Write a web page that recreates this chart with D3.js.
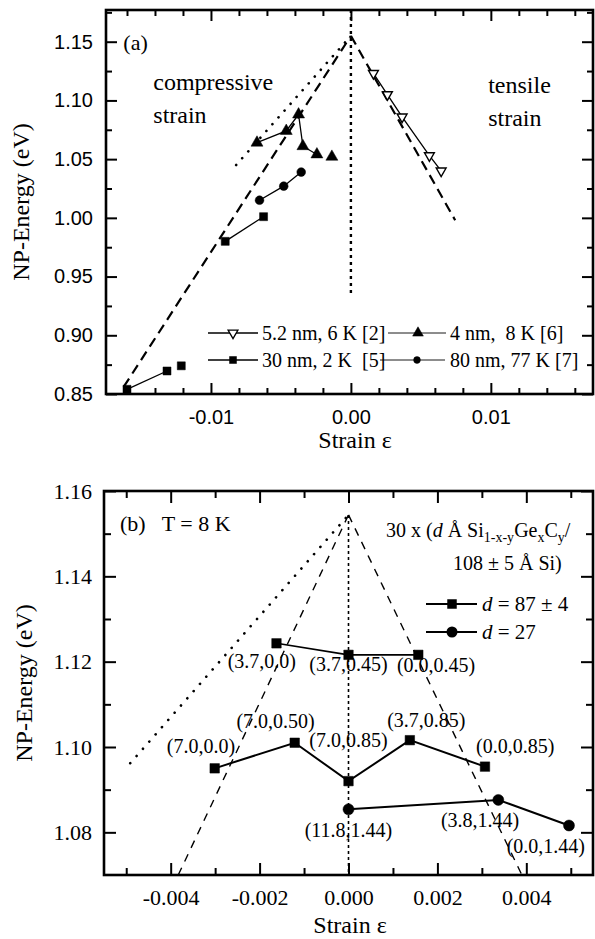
<!DOCTYPE html>
<html><head><meta charset="utf-8">
<script src="https://cdn.jsdelivr.net/npm/d3@7"></script>
<style>
body{margin:0;background:#fff;}
</style></head>
<body>
<svg id="c" width="595" height="939"></svg>
<script>
// ---------- Panel (a) data ----------
const aTensileX = [0.00161, 0.00261, 0.00366, 0.00561, 0.00645];
const aTensileE = [1.123, 1.105, 1.086, 1.053, 1.040];
const a4nmX = [-0.00671, -0.00462, -0.00374, -0.00343, -0.00243, -0.00136];
const a4nmE = [1.064, 1.074, 1.088, 1.061, 1.054, 1.052];
const a4nmLinked = [[0, 1, 2, 3, 4]];
const a30nmX = [-0.0160, -0.01314, -0.01212, -0.00898, -0.00624];
const a30nmE = [0.854, 0.8696, 0.874, 0.980, 1.001];
const a30nmLinked = [[0, 1], [3, 4]];
const a80nmX = [-0.00653, -0.0048, -0.00355];
const a80nmE = [1.015, 1.027, 1.039];
const aLegend = ["5.2 nm, 6 K [2]", "4 nm,  8 K [6]", "30 nm, 2 K  [5]", "80 nm, 77 K [7]"];
const aXTicks = [-0.01, 0.0, 0.01];
const aYTicks = [0.85, 0.90, 0.95, 1.00, 1.05, 1.10, 1.15];
const aDashL = [[-0.01624, 0.856], [0, 1.155]];
const aDashR = [[0, 1.155], [0.00745, 0.998]];
const aDotDiag = [[-0.0082, 1.045], [0, 1.155]];
const aDotV = [[0, 1.177], [0, 0.934]];

// ---------- Panel (b) data ----------
const bRow1X = [-0.00162, 0, 0.00157];
const bRow1E = [1.1243, 1.1216, 1.1216];
const bRow2X = [-0.00301, -0.00121, 0, 0.00138, 0.00307];
const bRow2E = [1.0950, 1.1010, 1.0920, 1.1016, 1.0954];
const bCircX = [0, 0.00337, 0.00496];
const bCircE = [1.0854, 1.0876, 1.0816];
const bLabelText = ["(3.7,0.0)", "(3.7,0.45)", "(0.0,0.45)", "(7.0,0.0)", "(7.0,0.50)", "(7.0,0.85)",
                    "(3.7,0.85)", "(0.0,0.85)", "(11.8,1.44)", "(3.8,1.44)", "(0.0,1.44)"];
const bLabelX = [-0.00195, 0.0, 0.00197, -0.00332, -0.00164, 0.0, 0.00175, 0.00375, 0.0, 0.00296, 0.00444];
const bLabelE = [1.1185, 1.1178, 1.1176, 1.0986, 1.1045, 1.1000, 1.1047, 1.0986, 1.0789, 1.0813, 1.0752];
const bXTicks = [-0.004, -0.002, 0.0, 0.002, 0.004];
const bYTicks = [1.08, 1.10, 1.12, 1.14, 1.16];
const bDashL = [[-0.00383, 1.07], [0, 1.1544]];
const bDashR = [[0, 1.1544], [0.0039, 1.07]];
const bDotDiag = [[-0.00491, 1.0962], [0, 1.1544]];
const bDotV = [[0, 1.1544], [0, 1.07]];

const SERIF = '"Liberation Serif", "Times New Roman", serif';
const SANS = '"Liberation Sans", Arial, sans-serif';

const svg = d3.select("#c");
svg.append("rect").attr("width", 595).attr("height", 939).attr("fill", "#fff");

function range(a, b, s) { const r = []; for (let v = a; v <= b + s / 2; v += s) r.push(+v.toFixed(6)); return r; }

function frameAndAxes(g, x, y, o) {
  const [x0, x1] = x.range(), [y0, y1] = y.range();
  const mk = (axis, tr, vals, size, fmt, pad) => {
    const a = g.append("g").attr("transform", tr)
      .call(axis.tickValues(vals).tickSize(size).tickPadding(pad).tickFormat(fmt));
    a.attr("font-family", o.font).attr("font-size", o.fs);
    a.select(".domain").remove();
    a.selectAll("line").attr("stroke", "#000").attr("stroke-width", 2);
    a.selectAll("text").style("font-family", o.font).style("font-size", o.fs + "px").attr("fill", "#000");
    return a;
  };
  const none = () => "";
  mk(d3.axisBottom(x), `translate(0,${y0})`, o.xMajor, -o.maj, o.xFmt, o.xPad);
  mk(d3.axisBottom(x), `translate(0,${y0})`, o.xMinor, -o.min, none, 0);
  mk(d3.axisTop(x), `translate(0,${y1})`, o.xMajor, -o.maj, none, 0);
  mk(d3.axisTop(x), `translate(0,${y1})`, o.xMinor, -o.min, none, 0);
  mk(d3.axisLeft(y), `translate(${x0},0)`, o.yMajor, -o.maj, o.yFmt, o.yPad);
  mk(d3.axisLeft(y), `translate(${x0},0)`, o.yMinor, -o.min, none, 0);
  mk(d3.axisRight(y), `translate(${x1},0)`, o.yMajor, -o.maj, none, 0);
  mk(d3.axisRight(y), `translate(${x1},0)`, o.yMinor, -o.min, none, 0);
  g.append("rect").attr("x", x0).attr("y", y1).attr("width", x1 - x0).attr("height", y0 - y1)
    .attr("fill", "none").attr("stroke", "#000").attr("stroke-width", 2.6);
}

function guide(g, x, y, pts, dash, w, cap) {
  g.append("path").attr("d", d3.line().x(d => x(d[0])).y(d => y(d[1]))(pts))
    .attr("fill", "none").attr("stroke", "#000").attr("stroke-width", w)
    .attr("stroke-dasharray", dash).attr("stroke-linecap", cap || "butt");
}
function seriesLine(g, x, y, xs, es, w) {
  g.append("path").attr("d", d3.line().x(i => x(xs[i])).y(i => y(es[i]))(xs.map((_, i) => i)))
    .attr("fill", "none").attr("stroke", "#000").attr("stroke-width", w);
}
function linkedLines(g, x, y, xs, es, groups, w) {
  groups.forEach(grp => {
    g.append("path").attr("d", d3.line().x(i => x(xs[i])).y(i => y(es[i]))(grp))
      .attr("fill", "none").attr("stroke", "#000").attr("stroke-width", w);
  });
}
function markers(g, x, y, xs, es, type, size, fill, rot) {
  const sym = d3.symbol().type(type).size(size);
  g.selectAll(null).data(xs.map((v, i) => [v, es[i]])).enter().append("path")
    .attr("d", sym)
    .attr("transform", d => `translate(${x(d[0])},${y(d[1])}) rotate(${rot || 0})`)
    .attr("fill", fill).attr("stroke", "#000").attr("stroke-width", fill === "#fff" ? 1.4 : 0.5);
}
function txt(g, s, x, y, fs, font, anchor) {
  return g.append("text").attr("x", x).attr("y", y).attr("fill", "#000")
    .style("font-family", font || SERIF).style("font-size", fs + "px")
    .style("white-space", "pre").attr("text-anchor", anchor || "start").text(s);
}

// =================== Panel (a) ===================
const xA = d3.scaleLinear().domain([-0.0175, 0.0173]).range([106, 593]);
const yA = d3.scaleLinear().domain([0.85, 1.177]).range([394, 10]);
const gA = svg.append("g");

guide(gA, xA, yA, aDotV, "3,4", 2.4);
guide(gA, xA, yA, aDotDiag, "0.1,9", 2.6, "round");
guide(gA, xA, yA, aDashL, "10,6", 2.2);
guide(gA, xA, yA, aDashR, "10,6", 2.2);

seriesLine(gA, xA, yA, aTensileX, aTensileE, 1.3);
linkedLines(gA, xA, yA, a4nmX, a4nmE, a4nmLinked, 1.3);
linkedLines(gA, xA, yA, a30nmX, a30nmE, a30nmLinked, 1.3);
seriesLine(gA, xA, yA, a80nmX, a80nmE, 1.3);
markers(gA, xA, yA, aTensileX, aTensileE, d3.symbolTriangle, 42, "#fff", 180);
markers(gA, xA, yA, a4nmX, a4nmE, d3.symbolTriangle, 62, "#000", 0);
markers(gA, xA, yA, a30nmX, a30nmE, d3.symbolSquare, 64, "#000", 0);
markers(gA, xA, yA, a80nmX, a80nmE, d3.symbolCircle, 60, "#000", 0);

frameAndAxes(gA, xA, yA, {
  xMajor: aXTicks, xMinor: range(-0.016, 0.016, 0.002).filter(v => Math.abs(Math.round(v * 100) - v * 100) > 1e-6),
  yMajor: aYTicks, yMinor: range(0.875, 1.175, 0.05),
  maj: 11, min: 6, xFmt: d => d.toFixed(2), yFmt: d => d.toFixed(2),
  xPad: 16, yPad: 13, font: SANS, fs: 20
});

const annA = [["(a)", -0.01626, 1.143, 22], ["compressive", -0.01412, 1.109, 24], ["strain", -0.01412, 1.0808, 24],
              ["tensile", 0.00981, 1.1064, 24], ["strain", 0.00981, 1.0783, 24]];
annA.forEach(d => txt(gA, d[0], xA(d[1]), yA(d[2]), d[3]));

const legA = [
  {x1: 208, x2: 258, mx: 233, y: 333, tx: 262, sym: d3.symbolTriangle, size: 42, fill: "#fff", rot: 180, w: 1.5},
  {x1: 388, x2: 446, mx: 418, y: 333, tx: 450, sym: d3.symbolTriangle, size: 50, fill: "#000", rot: 0, w: 0.9},
  {x1: 208, x2: 258, mx: 233, y: 360, tx: 262, sym: d3.symbolSquare, size: 49, fill: "#000", rot: 0, w: 1.5},
  {x1: 380, x2: 445, mx: 417, y: 360, tx: 450, sym: d3.symbolCircle, size: 36, fill: "#000", rot: 0, w: 0.9}
];
legA.forEach((l, i) => {
  gA.append("line").attr("x1", l.x1).attr("x2", l.x2).attr("y1", l.y).attr("y2", l.y)
    .attr("stroke", "#000").attr("stroke-width", l.w);
  gA.append("path").attr("d", d3.symbol().type(l.sym).size(l.size)())
    .attr("transform", `translate(${l.mx},${l.y}) rotate(${l.rot})`)
    .attr("fill", l.fill).attr("stroke", "#000").attr("stroke-width", l.fill === "#fff" ? 1.3 : 0.5);
  txt(gA, aLegend[i], l.tx, l.y + 7, 20);
});

txt(gA, "Strain ε", 355, 448, 24, SERIF, "middle");
txt(gA, "NP-Energy (eV)", 0, 0, 24, SERIF, "middle").attr("transform", "translate(29,202) rotate(-90)");

// =================== Panel (b) ===================
const xB = d3.scaleLinear().domain([-0.0055, 0.0055]).range([104, 593]);
const yB = d3.scaleLinear().domain([1.07, 1.16]).range([875, 491]);
const gB = svg.append("g");

guide(gB, xB, yB, bDotV, "3,3", 1.6);
guide(gB, xB, yB, bDotDiag, "0.1,9.5", 2.6, "round");
guide(gB, xB, yB, bDashL, "8,7", 1.4);
guide(gB, xB, yB, bDashR, "8,7", 1.4);

seriesLine(gB, xB, yB, bRow1X, bRow1E, 1.6);
seriesLine(gB, xB, yB, bRow2X, bRow2E, 2);
seriesLine(gB, xB, yB, bCircX, bCircE, 2);
markers(gB, xB, yB, bRow1X, bRow1E, d3.symbolSquare, 90, "#000", 0);
markers(gB, xB, yB, bRow2X, bRow2E, d3.symbolSquare, 90, "#000", 0);
markers(gB, xB, yB, bCircX, bCircE, d3.symbolCircle, 95, "#000", 0);

bLabelText.forEach((s, i) => txt(gB, s, xB(bLabelX[i]), yB(bLabelE[i]), 20, SERIF, "middle"));

frameAndAxes(gB, xB, yB, {
  xMajor: bXTicks, xMinor: [-0.005, -0.003, -0.001, 0.001, 0.003, 0.005],
  yMajor: bYTicks, yMinor: [1.09, 1.11, 1.13, 1.15],
  maj: 12, min: 7, xFmt: d => d.toFixed(3), yFmt: d => d.toFixed(2),
  xPad: 14, yPad: 12, font: SERIF, fs: 22
});

txt(gB, "(b)   T = 8 K", xB(-0.00514), yB(1.1506), 22);

const t1 = txt(gB, "", 386, 537, 20);
t1.append("tspan").text("30 x (");
t1.append("tspan").style("font-style", "italic").text("d");
t1.append("tspan").text(" Å Si");
t1.append("tspan").attr("dy", 5).style("font-size", "14px").text("1-x-y");
t1.append("tspan").attr("dy", -5).text("Ge");
t1.append("tspan").attr("dy", 5).style("font-size", "14px").text("x");
t1.append("tspan").attr("dy", -5).text("C");
t1.append("tspan").attr("dy", 5).style("font-size", "14px").text("y");
t1.append("tspan").attr("dy", -5).text("/");
txt(gB, "108 ± 5 Å Si)", 453, 570, 20);

const legB = [
  {y: 604, sym: d3.symbolSquare, size: 90, label: " = 87 ± 4"},
  {y: 632, sym: d3.symbolCircle, size: 95, label: " = 27"}
];
legB.forEach(l => {
  gB.append("line").attr("x1", 426).attr("x2", 477).attr("y1", l.y).attr("y2", l.y)
    .attr("stroke", "#000").attr("stroke-width", 2);
  gB.append("path").attr("d", d3.symbol().type(l.sym).size(l.size)())
    .attr("transform", `translate(452,${l.y})`).attr("fill", "#000");
  const t = txt(gB, "", 482, l.y + 7, 21);
  t.append("tspan").style("font-style", "italic").text("d");
  t.append("tspan").text(l.label);
});

txt(gB, "Strain ε", 350, 933, 24, SERIF, "middle");
txt(gB, "NP-Energy (eV)", 0, 0, 24, SERIF, "middle").attr("transform", "translate(32,683) rotate(-90)");
</script>
</body></html>
